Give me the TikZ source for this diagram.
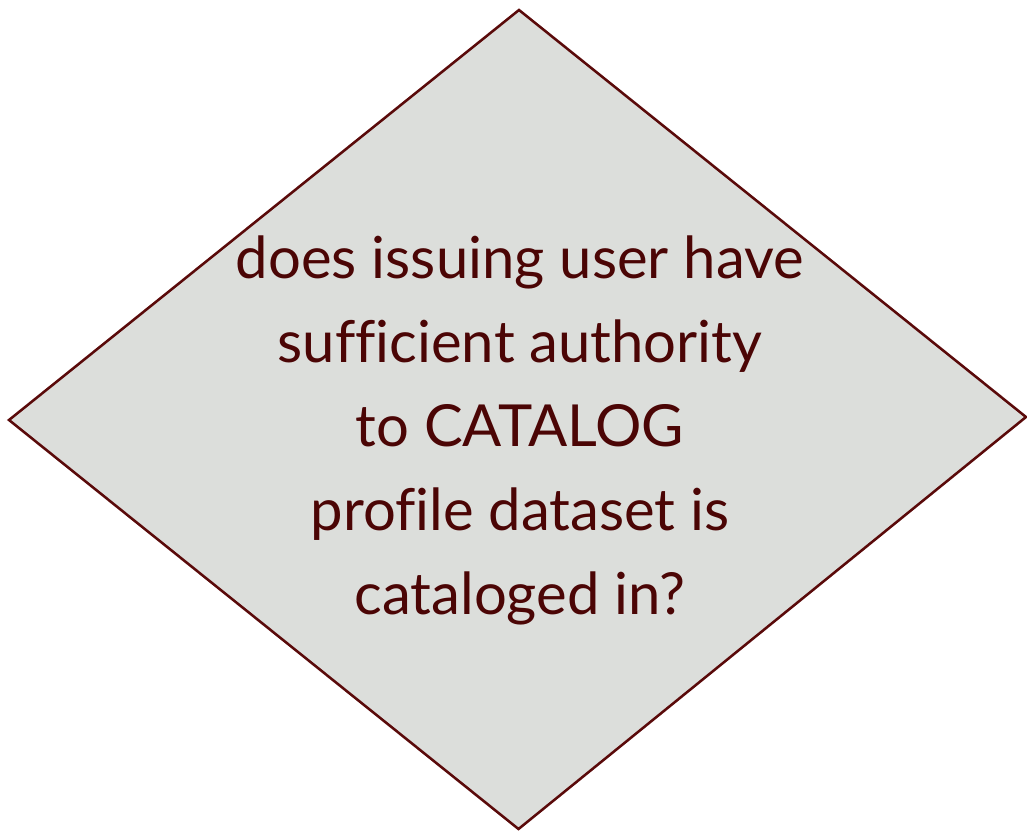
\documentclass[tikz,border=0pt]{standalone}
\usepackage{fontspec}
\setmainfont[Ligatures=NoCommon]{Lato}
\usepackage{tikz}
\usetikzlibrary{calc}
\definecolor{rimred}{RGB}{90,10,10}
\definecolor{inkred}{RGB}{75,5,5}
\definecolor{boxgray}{RGB}{220,222,219}
\tikzset{
  decision/.style={draw=rimred, fill=boxgray, line width=1.9pt, line join=miter},
  question/.style={text=inkred, align=center, inner sep=0.75pt,
    font=\fontsize{43.5}{63}\selectfont}
}

\begin{document}
\begin{tikzpicture}[x=0.75pt,y=0.75pt,yscale=-1,xscale=1]
\useasboundingbox (0,0) rectangle (1027,831);

%Shape: Diamond
\coordinate (top) at (519,10);
\coordinate (left) at (9,420);
\coordinate (bot) at (518.5,829);
\coordinate (right) at (1026,417);
\draw [decision] (top) -- (left) -- (bot) -- (right) -- cycle ;

% Text Node
\node [question] (q) at (520,430) {does issuing user have\\sufficient authority\\to CATALOG\\profile dataset is\\cataloged in?};

\end{tikzpicture}
\end{document}
